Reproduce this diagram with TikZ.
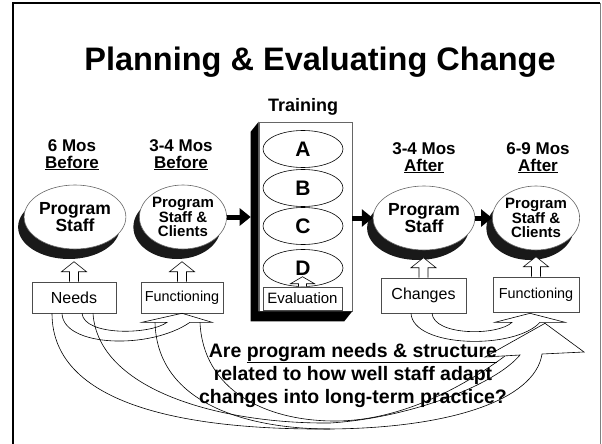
\documentclass[tikz,border=0pt]{standalone}
\usepackage{fontspec}
\setmainfont{Liberation Sans}
\usetikzlibrary{arrows.meta,positioning,calc,shapes.geometric,shadows}
\tikzset{
  stage/.style={ellipse, draw=black!60, fill=white, line width=0.6pt, inner sep=0pt, minimum width=84pt, minimum height=64pt, align=center,
    general shadow={shadow xshift=-6pt, shadow yshift=-10pt, fill=black!90}},
  twoline/.style={font=\bfseries\fontsize{17.5}{17.5}\selectfont},
  threeline/.style={font=\bfseries\fontsize{15}{14.5}\selectfont},
  timelabel/.style={align=center, font=\bfseries\fontsize{17}{16.5}\selectfont},
  part/.style={ellipse, draw=black, fill=white, line width=0.6pt, minimum width=80pt, minimum height=37pt, inner sep=0pt, font=\bfseries\fontsize{21}{21}\selectfont},
  infobox/.style={draw=black!70, fill=white, line width=0.6pt, inner sep=0pt, align=center},
  arrow/.style={-{Triangle[length=11pt,width=17pt]}, line width=5pt},
  band/.style={draw=black, line width=0.6pt},
  pics/hollowup/.style={code={\draw[band, fill=white] (-4.5,0) -- (-4.5,-10) -- (-12.5,-10) -- (0,-20) -- (12.5,-10) -- (4.5,-10) -- (4.5,0);}},
  pics/smallup/.style={code={\draw[band, fill=white] (-4,0) -- (-4,-3) -- (-12,-3) -- (0,-10) -- (12,-3) -- (4,-3) -- (4,0);}}
}
\begin{document}
\begin{tikzpicture}[x=1pt,y=-1pt]
\useasboundingbox (0,0) rectangle (602,444);
\draw[line width=2pt] (13,444) -- (13,3) -- (600,3);
\draw[black!50, line width=1pt] (600,3) -- (600,444);

\node[font=\bfseries\fontsize{32.5}{32.5}\selectfont] (title) at (320,62) {Planning \& Evaluating Change};

\node[timelabel] (t1) at (72,155) {6 Mos\\\underline{Before}};
\node[timelabel] (t2) at (181,155) {3-4 Mos\\\underline{Before}};
\node[font=\bfseries\fontsize{18}{18}\selectfont] (tr) at (303,107) {Training};
\node[timelabel] (t3) at (424,158) {3-4 Mos\\\underline{After}};
\node[timelabel] (t4) at (538,158) {6-9 Mos\\\underline{After}};

\node[stage, twoline] (s1) at (75,217) {Program\\Staff};
\node[stage, threeline] (s2) at (183,217) {Program\\Staff \&\\Clients};
\node[stage, twoline] (s3) at (424,218) {Program\\Staff};
\node[stage, threeline] (s4) at (536,218) {Program\\Staff \&\\Clients};

\node[draw=black!60, fill=white, line width=0.6pt, minimum width=93pt, minimum height=189pt, inner sep=0pt] (train) at (305.5,216.5) {};
\fill (train.north west) -- ++(-8,10) -- ([shift={(-8pt,-10pt)}]train.south west) -- ([shift={(-8pt,-10pt)}]train.south east) -- (train.south east) -- (train.south west) -- cycle;
\node[part] (ma) at (303,149) {A};
\node[part] (mb) at (303,188) {B};
\node[part] (mc) at (303,226) {C};
\node[part] (md) at (303,268) {D};
\node[infobox, font=\fontsize{15}{15}\selectfont, minimum width=79pt, minimum height=23pt] (eval) at (302.5,298.5) {Evaluation};
\pic at (eval.north) {smallup};

\node[infobox, font=\fontsize{16}{16}\selectfont, minimum width=84pt, minimum height=31pt] (needs) at (74,297.5) {Needs};
\node[infobox, font=\fontsize{14.4}{14.4}\selectfont, minimum width=82pt, minimum height=31pt] (funcl) at (182,297.5) {Functioning};
\node[infobox, font=\fontsize{16}{16}\selectfont, minimum width=85pt, minimum height=35pt] (changes) at (423.5,295.5) {Changes};
\node[infobox, font=\fontsize{14.4}{14.4}\selectfont, minimum width=86pt, minimum height=35pt] (funcr) at (536,294.5) {Functioning};
\pic at (needs.north) {hollowup};
\pic at (funcl.north) {hollowup};
\pic at (changes.north) {hollowup};
\pic at (funcr.north) {hollowup};

\draw[arrow, shorten >=8pt] (s2.east) -- (s2.east -| train.west);
\draw[arrow] (train.east |- s3.west) -- (s3.west);
\draw[arrow] (s3.east) -- (s4.west);

\draw[band] ([xshift=-12pt]needs.south) .. controls (63,347) and (150,350) .. ([shift={(8pt,-9pt)}]funcl.south) -- ([shift={(30pt,-9pt)}]funcl.south) -- (funcl.south) -- ([shift={(-40pt,-9pt)}]funcl.south) -- ([shift={(-15pt,-9pt)}]funcl.south) .. controls (150,335) and (84,336) .. ([xshift=8pt]needs.south);
\draw[band] ([xshift=-12.5pt]changes.south) .. controls (413,348) and (515,350) .. ([shift={(4pt,-10pt)}]funcr.south) -- ([shift={(29pt,-10pt)}]funcr.south) -- ([shift={(-6pt,-1pt)}]funcr.south) -- ([shift={(-41pt,-10pt)}]funcr.south) -- ([shift={(-24pt,-10pt)}]funcr.south) .. controls (498,336) and (434,336) .. ([xshift=8.5pt]changes.south);
\draw[band] ([xshift=-22pt]needs.south) .. controls (52,410) and (200,430) .. (330,429) .. controls (450,428) and (535,400) .. (542,354) -- (584,352) -- ([shift={(9pt,-11pt)}]funcr.south) -- (485,357) -- (520,355) .. controls (495,385) and (410,418) .. (330,423) .. controls (220,424) and (98,390) .. ([xshift=19pt]needs.south);
\draw[band] ([shift={(-27pt,-9pt)}]funcl.south) .. controls (157,405) and (250,429) .. (330,429);
\draw[band] ([shift={(18pt,-9pt)}]funcl.south) .. controls (203,390) and (265,421) .. (335,421) .. controls (405,421) and (470,382) .. (505,356);

\node[align=center, font=\bfseries\fontsize{19.5}{23}\selectfont] (q) at (353,375) {Are \underline{program needs \& structure}\\related to how well staff adapt\\changes into long-term practice?};
\end{tikzpicture}
\end{document}
